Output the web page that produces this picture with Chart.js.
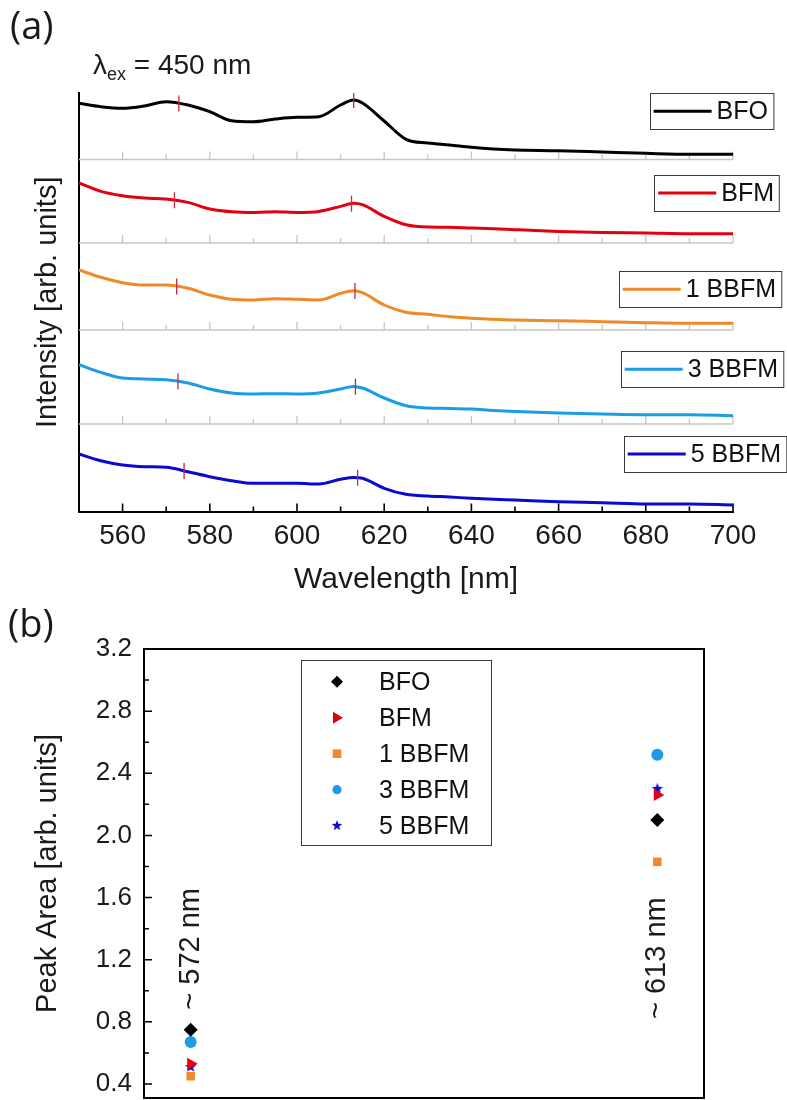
<!DOCTYPE html>
<html>
<head>
<meta charset="utf-8">
<script src="https://cdn.jsdelivr.net/npm/chart.js@4.4.1/dist/chart.umd.min.js"></script>
<style>
  body { margin: 0; background: #fff; }
  #page { position: relative; width: 787px; height: 1100px; overflow: hidden;
          font-family: 'Liberation Sans', Arial, sans-serif; color: #1a1a1a; }
  canvas { position: absolute; left: 0; }
  #spectra { top: 0; }
  #area { top: 600px; }
  .tag { position: absolute; font-family: 'Open Sans', sans-serif; font-size: 38px; line-height: 38px; }
  #exc { position: absolute; left: 93px; top: 51px; font-size: 28px; line-height: 28px; white-space: nowrap; }
  #exc .sub { font-size: 18px; position: relative; top: 6px; }
</style>
</head>
<body>
<div id="page">
  <canvas id="spectra" width="787" height="600"></canvas>
  <canvas id="area" width="787" height="500"></canvas>
  <div class="tag" style="left:10px; top:5px">(a)</div>
  <div id="exc">λ<span class="sub">ex</span> = 450 nm</div>
  <div class="tag" style="left:8px; top:603px">(b)</div>
</div>
<script>
// emission spectra, sampled along the wavelength axis (nm)
const wavelengths = [550, 555, 560, 565, 570, 575, 580, 585, 590, 595, 600, 605, 610, 613, 615,
                     620, 625, 630, 635, 640, 645, 650, 660, 670, 680, 690, 700];
const sampleNames = ['BFO', 'BFM', '1 BBFM', '3 BBFM', '5 BBFM'];

const intensityBFO   = [56.2, 52.8, 51.2, 53.5, 57.8, 54.5, 47.8, 38.8, 37.8, 40.5, 42.2, 42.8, 54.5, 59.5, 56.5,
                        38.5, 20.2, 16.5, 14.5, 12.2, 10.5, 9.5, 8.8, 7.5, 6.2, 5.2, 5.2];
const intensityBFM   = [60.0, 51.6, 47.3, 45.0, 44.0, 40.6, 34.0, 31.3, 30.6, 31.3, 30.6, 31.6, 36.6, 39.8, 38.3,
                        26.6, 18.3, 16.0, 15.8, 15.0, 14.3, 13.3, 11.6, 10.6, 10.0, 9.3, 9.3];
const intensity1BBFM = [60.0, 52.7, 47.3, 45.0, 45.0, 41.7, 35.0, 30.7, 30.0, 31.3, 30.7, 30.0, 36.7, 39.3, 37.3,
                        25.0, 17.7, 15.7, 13.3, 11.7, 10.8, 10.0, 9.3, 8.3, 7.3, 6.7, 6.7];
const intensity3BBFM = [59.3, 51.6, 46.0, 45.0, 44.3, 41.0, 35.0, 31.0, 30.0, 30.3, 30.0, 31.0, 35.0, 37.6, 36.0,
                        26.0, 18.3, 16.0, 15.6, 15.0, 13.6, 12.6, 11.0, 10.0, 9.3, 9.3, 8.3];
const intensity5BBFM = [57.5, 50.8, 46.5, 44.8, 44.2, 39.8, 34.8, 30.8, 28.2, 28.2, 28.2, 27.5, 32.2, 34.0, 33.2,
                        23.2, 17.2, 15.5, 14.5, 13.2, 12.3, 11.5, 9.8, 8.8, 7.5, 7.5, 6.5];

// fitted peak centres marked on each spectrum (nm)
const peakLow  = [572.9, 571.9, 572.4, 572.7, 574.1];
const peakHigh = [613.0, 612.5, 613.3, 613.4, 613.9];
const wavelengthTicks = [560, 580, 600, 620, 640, 660, 680, 700];

// integrated peak areas
const peakPositions = [1, 2];
const peakLabels = ['~ 572 nm', '~ 613 nm'];
const areaAt572 = [0.75, 0.53, 0.45, 0.67, 0.51];
const areaAt613 = [2.10, 2.26, 1.83, 2.52, 2.30];
const areaTicks = [0.4, 0.8, 1.2, 1.6, 2.0, 2.4, 2.8, 3.2];

const colors = ['#000000', '#e3000f', '#f0892a', '#1c9ce6', '#0a0ad0'];
const FONT = '"Liberation Sans", Arial, sans-serif';
Chart.defaults.font.family = FONT;
Chart.defaults.color = '#1a1a1a';

// panel heights of the stacked spectra (one y axis each, top to bottom)
const panelSpan = [66.5, 83.5, 87, 94, 87.5];
const legendA = { centre: [18.3, 33.5, 46.2, 39.2, 29.9], right: [773, 779, 781, 783, 786] };

function valueAt(xs, ys, x) {
  for (let i = 1; i < xs.length; i++) {
    if (x <= xs[i]) {
      const t = (x - xs[i - 1]) / (xs[i] - xs[i - 1]);
      return ys[i - 1] + t * (ys[i] - ys[i - 1]);
    }
  }
  return ys[ys.length - 1];
}

function starPath(g, cx, cy, r) {
  g.beginPath();
  for (let k = 0; k < 10; k++) {
    const rr = k % 2 ? r * 0.42 : r;
    const a = -Math.PI / 2 + k * Math.PI / 5;
    g.lineTo(cx + rr * Math.cos(a), cy + rr * Math.sin(a));
  }
  g.closePath();
}

function starImage(r, color) {
  const c = document.createElement('canvas');
  c.width = c.height = Math.ceil(2 * r + 2);
  const g = c.getContext('2d');
  g.fillStyle = color;
  starPath(g, c.width / 2, c.height / 2, r);
  g.fill();
  return c;
}

// ---------- (a) stacked spectra ----------
const spectraSets = [intensityBFO, intensityBFM, intensity1BBFM, intensity3BBFM, intensity5BBFM];
const yIds = ['y0', 'y1', 'y2', 'y3', 'y4'];

const spectraDatasets = [];
spectraSets.forEach((vals, i) => {
  spectraDatasets.push({
    type: 'line',
    label: sampleNames[i],
    data: wavelengths.map((w, k) => ({ x: w, y: vals[k] })),
    yAxisID: yIds[i],
    borderColor: colors[i],
    borderWidth: 3,
    pointRadius: 0,
    cubicInterpolationMode: 'monotone',
    order: 1
  });
  spectraDatasets.push({
    type: 'scatter',
    label: sampleNames[i] + ' peaks',
    data: [peakLow[i], peakHigh[i]].map(w => ({ x: w, y: valueAt(wavelengths, vals, w) })),
    yAxisID: yIds[i],
    pointStyle: 'line',
    rotation: 90,
    radius: 8,
    borderColor: '#c8283c',
    borderWidth: 1.3,
    order: 0
  });
});

const spectraScales = {
  x: {
    type: 'linear', min: 550, max: 700,
    afterBuildTicks: s => { s.ticks = wavelengthTicks.map(v => ({ value: v })); },
    afterFit: s => { s.height = 88.5; },
    grid: { display: false, drawTicks: false },
    border: { color: '#000', width: 2 },
    ticks: { font: { size: 28 }, padding: 8, maxRotation: 0 },
    title: { display: true, text: 'Wavelength [nm]', font: { size: 30 }, padding: { top: 0, bottom: 2 } }
  }
};
yIds.forEach((id, i) => {
  spectraScales[id] = {
    type: 'linear', position: 'left',
    stack: 'spectra', stackWeight: panelSpan[i], weight: yIds.length - i,
    min: 0, max: panelSpan[i],
    ticks: { display: false },
    grid: { display: false, drawTicks: false },
    border: { color: '#000', width: 2 },
    afterFit: s => { s.width = 0; }
  };
});

const spectraFrame = {
  id: 'spectraFrame',
  beforeDatasetsDraw(chart) {
    const { ctx, chartArea: a, scales } = chart;
    const x = scales.x;
    const minor = wavelengthTicks.map(v => v - 10).filter(v => v > x.min);
    ctx.save();
    yIds.forEach((id, i) => {
      const base = scales[id].bottom;
      const last = i === yIds.length - 1;
      ctx.strokeStyle = last ? '#000' : '#c6c6c6';
      ctx.lineWidth = last ? 1.6 : 1.3;
      ctx.beginPath();
      if (!last) {
        ctx.moveTo(a.left, base);
        ctx.lineTo(a.right, base);
      }
      wavelengthTicks.forEach(v => {
        const px = x.getPixelForValue(v);
        ctx.moveTo(px, base);
        ctx.lineTo(px, base - 8);
      });
      minor.forEach(v => {
        const px = x.getPixelForValue(v);
        ctx.moveTo(px, base);
        ctx.lineTo(px, base - 5);
      });
      ctx.stroke();
    });
    ctx.restore();
  },
  afterDraw(chart) {
    const { ctx, chartArea: a, scales } = chart;
    ctx.save();
    // legend box in every panel
    ctx.font = '25px ' + FONT;
    ctx.textBaseline = 'middle';
    yIds.forEach((id, i) => {
      const cy = scales[id].top + legendA.centre[i];
      const tw = ctx.measureText(sampleNames[i]).width;
      const w = 4 + 58 + 5 + tw + 5;
      const left = legendA.right[i] - w;
      ctx.fillStyle = '#fff';
      ctx.fillRect(left, cy - 18, w, 36);
      ctx.strokeStyle = '#3a3a3a';
      ctx.lineWidth = 1;
      ctx.strokeRect(Math.round(left) + 0.5, Math.round(cy - 18) + 0.5, w, 36);
      ctx.strokeStyle = colors[i];
      ctx.lineWidth = 3;
      ctx.beginPath();
      ctx.moveTo(left + 4, cy);
      ctx.lineTo(left + 62, cy);
      ctx.stroke();
      ctx.fillStyle = '#111';
      ctx.textAlign = 'left';
      ctx.fillText(sampleNames[i], left + 67, cy + 1);
    });
    // shared intensity title
    ctx.translate(48, (a.top + a.bottom) / 2);
    ctx.rotate(-Math.PI / 2);
    ctx.font = '29px ' + FONT;
    ctx.textAlign = 'center';
    ctx.fillStyle = '#1a1a1a';
    ctx.fillText('Intensity [arb. units]', 0, 0);
    ctx.restore();
  }
};

new Chart(document.getElementById('spectra'), {
  type: 'line',
  data: { datasets: spectraDatasets },
  options: {
    responsive: false,
    animation: false,
    layout: { autoPadding: false, padding: { left: 79, right: 54, top: 93, bottom: 0 } },
    scales: spectraScales,
    plugins: { legend: { display: false }, tooltip: { enabled: false } }
  },
  plugins: [spectraFrame]
});

// ---------- (b) peak areas ----------
const markerStyles = ['rectRot', 'triangle', 'rect', 'circle', starImage(6, colors[4])];
const markerRadius = [7, 7, 6, 6, 6];
const markerRotation = [0, 90, 0, 0, 0];
const labelLevels = [1.27, 1.21];

function legendMarker(g, i, x, y) {
  g.fillStyle = colors[i];
  g.beginPath();
  if (i === 0) {
    g.moveTo(x, y - 6); g.lineTo(x + 6, y); g.lineTo(x, y + 6); g.lineTo(x - 6, y);
  } else if (i === 1) {
    g.moveTo(x + 6, y); g.lineTo(x - 4, y - 6); g.lineTo(x - 4, y + 6);
  } else if (i === 2) {
    g.rect(x - 4.3, y - 4.3, 8.6, 8.6);
  } else if (i === 3) {
    g.arc(x, y, 4.6, 0, Math.PI * 2);
  } else {
    starPath(g, x, y, 5.5);
  }
  g.closePath();
  g.fill();
}

const areaFrame = {
  id: 'areaFrame',
  afterDraw(chart) {
    const { ctx, chartArea: a, scales: { x, y } } = chart;
    ctx.save();
    ctx.strokeStyle = '#000';
    ctx.lineWidth = 2;
    ctx.strokeRect(a.left, a.top, a.right - a.left, a.bottom - a.top);
    // inward ticks on the left axis
    ctx.lineWidth = 1.5;
    ctx.beginPath();
    areaTicks.forEach(v => {
      const py = y.getPixelForValue(v);
      ctx.moveTo(a.left, py);
      ctx.lineTo(a.left + 8, py);
    });
    areaTicks.map(v => v + 0.2).filter(v => v < y.max).forEach(v => {
      const py = y.getPixelForValue(v);
      ctx.moveTo(a.left, py);
      ctx.lineTo(a.left + 5, py);
    });
    ctx.stroke();

    // peak position labels
    ctx.font = '29px ' + FONT;
    ctx.fillStyle = '#1a1a1a';
    ctx.textAlign = 'center';
    ctx.textBaseline = 'middle';
    peakLabels.forEach((t, k) => {
      ctx.save();
      ctx.translate(x.getPixelForValue(peakPositions[k]), y.getPixelForValue(labelLevels[k]));
      ctx.rotate(-Math.PI / 2);
      ctx.fillText(t, 0, 0);
      ctx.restore();
    });

    // legend
    const left = a.left + 157, top = a.top + 11;
    ctx.fillStyle = '#fff';
    ctx.fillRect(left, top, 190, 185);
    ctx.strokeStyle = '#3a3a3a';
    ctx.lineWidth = 1;
    ctx.strokeRect(Math.round(left) + 0.5, Math.round(top) + 0.5, 190, 185);
    ctx.font = '25px ' + FONT;
    ctx.textAlign = 'left';
    sampleNames.forEach((name, i) => {
      const cy = top + 21.7 + i * 36;
      legendMarker(ctx, i, left + 36, cy);
      ctx.fillStyle = '#111';
      ctx.fillText(name, left + 78, cy + 1);
    });
    ctx.restore();
  }
};

new Chart(document.getElementById('area'), {
  type: 'scatter',
  data: {
    datasets: sampleNames.map((name, i) => ({
      label: name,
      data: peakPositions.map((p, k) => ({ x: p, y: [areaAt572, areaAt613][k][i] })),
      pointStyle: markerStyles[i],
      radius: markerRadius[i],
      rotation: markerRotation[i],
      backgroundColor: colors[i],
      borderColor: colors[i],
      borderWidth: 0
    }))
  },
  options: {
    responsive: false,
    animation: false,
    layout: { autoPadding: false, padding: { left: 0, right: 83, top: 49, bottom: 2 } },
    scales: {
      x: { type: 'linear', min: 0.9, max: 2.1, display: false },
      y: {
        type: 'linear', min: 0.31, max: 3.2,
        afterBuildTicks: s => { s.ticks = areaTicks.map(v => ({ value: v })); },
        afterFit: s => { s.width = 144; s.paddingTop = 0; s.paddingBottom = 0; },
        ticks: { callback: v => v.toFixed(1), font: { size: 26 }, padding: 12 },
        grid: { display: false, drawTicks: false },
        border: { color: '#000', width: 2 },
        title: { display: true, text: 'Peak Area [arb. units]', font: { size: 29 }, padding: { top: 31, bottom: 0 } }
      }
    },
    plugins: { legend: { display: false }, tooltip: { enabled: false } }
  },
  plugins: [areaFrame]
});
</script>
</body>
</html>
